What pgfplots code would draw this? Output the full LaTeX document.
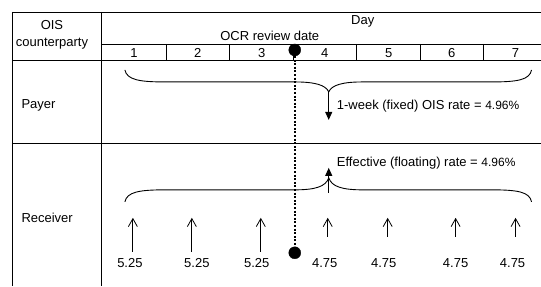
\documentclass[border=0pt]{standalone}
\usepackage{fontspec}
\setmainfont{Liberation Sans}
\usepackage{pgfplots}
\usepackage{pgfplotstable}
\pgfplotsset{compat=1.18}
\usetikzlibrary{arrows.meta}

% receiver daily rate arrows: x, bottom, top, label position, label
\pgfplotstableread{
x   yb    dv   lx   lab
133 252  -34   130  5.25
192 252  -34   197  5.25
261 252  -34   257  5.25
328 237  -19   325  4.75
388 237  -19   384  4.75
456 237  -19   456  4.75
516 237  -19   513  4.75
}\recv

\begin{document}
\fontsize{13bp}{15bp}\selectfont
\begin{tikzpicture}
\begin{axis}[
  width=541bp, height=286bp, scale only axis,
  xmin=0, xmax=541, ymin=0, ymax=286, y dir=reverse,
  hide axis, clip=false,
  every node/.style={font=\fontsize{13bp}{15bp}\selectfont},
]
\path (axis cs:0,0) rectangle (axis cs:541,286);
% table frame
\addplot[black, line width=0.9bp] coordinates {(12,12) (541,12)};
\addplot[black, line width=0.9bp] coordinates {(12,12) (12,286)};
\addplot[black, line width=0.9bp] coordinates {(102,12) (102,286)};
\addplot[black, line width=0.9bp] coordinates {(102,44) (541,44)};
\addplot[black, line width=0.9bp] coordinates {(12,61) (541,61)};
\addplot[black, line width=0.9bp] coordinates {(12,144) (541,144)};
\addplot[black, line width=0.9bp] coordinates {(166.5,44) (166.5,61)};
\addplot[black, line width=0.9bp] coordinates {(230,44) (230,61)};
\addplot[black, line width=0.9bp] coordinates {(293.5,44) (293.5,61)};
\addplot[black, line width=0.9bp] coordinates {(357,44) (357,61)};
\addplot[black, line width=0.9bp] coordinates {(420.5,44) (420.5,61)};
\addplot[black, line width=0.9bp] coordinates {(484,44) (484,61)};

% header text
\node[anchor=base] at (axis cs:52,30) {OIS};
\node[anchor=base] at (axis cs:52,47) {counterparty};
\node[anchor=base] at (axis cs:363,25) {Day};
\node[anchor=base] at (axis cs:270,41) {OCR review date};
\node[anchor=base] at (axis cs:134,58) {1};
\node[anchor=base] at (axis cs:198,58) {2};
\node[anchor=base] at (axis cs:262,58) {3};
\node[anchor=base] at (axis cs:325,58) {4};
\node[anchor=base] at (axis cs:389,58) {5};
\node[anchor=base] at (axis cs:452,58) {6};
\node[anchor=base] at (axis cs:516,58) {7};

% row labels
\node[anchor=west] at (axis cs:17,105) {Payer};
\node[anchor=west] at (axis cs:17,218) {Receiver};

% OCR review date line and dots
\addplot[black, line width=2.2bp, dash pattern=on 2bp off 1.6bp] coordinates {(295,56) (295,248)};
\addplot[black, only marks, mark=*, mark size=6bp] coordinates {(295,50) (295,253)};

% payer brace
\draw[black, line width=0.9bp] (axis cs:125,70) .. controls (axis cs:127,80) and (axis cs:140,82) .. (axis cs:165,82)
  -- (axis cs:295,82) .. controls (axis cs:315,82) and (axis cs:326,85) .. (axis cs:329,92)
  .. controls (axis cs:332,85) and (axis cs:343,82) .. (axis cs:363,82)
  -- (axis cs:492,82) .. controls (axis cs:518,82) and (axis cs:530,80) .. (axis cs:532,70);
\addplot[black, line width=0.9bp, -{Triangle[length=8bp,width=7bp]}] coordinates {(329,92) (329,120)};
\node[anchor=base west, inner sep=0pt] at (axis cs:337,110) {1-week (fixed) OIS rate = {\fontsize{12bp}{14bp}\selectfont 4.96\%}};

% receiver brace
\draw[black, line width=0.9bp] (axis cs:125,202) .. controls (axis cs:127,192) and (axis cs:140,190) .. (axis cs:165,190)
  -- (axis cs:295,190) .. controls (axis cs:315,190) and (axis cs:326,187) .. (axis cs:329,178)
  .. controls (axis cs:332,187) and (axis cs:343,190) .. (axis cs:363,190)
  -- (axis cs:492,190) .. controls (axis cs:518,190) and (axis cs:530,192) .. (axis cs:532,202);
\addplot[black, line width=0.9bp, -{Triangle[length=8bp,width=7bp]}] coordinates {(329,193) (329,168)};
\node[anchor=base west, inner sep=0pt] at (axis cs:337,167) {Effective (floating) rate = {\fontsize{12bp}{14bp}\selectfont 4.96\%}};

% receiver daily arrows
\addplot[black, line width=0.8bp, -{Straight Barb[length=8bp,width=9bp]},
  quiver={u=0, v=\thisrow{dv}}] table[x=x, y=yb] {\recv};
% labels
\addplot[draw=none, mark=none, nodes near coords, point meta=explicit symbolic,
  every node near coord/.style={anchor=center, font=\fontsize{13bp}{15bp}\selectfont}]
  table[x=lx, y expr=263, meta=lab] {\recv};
\end{axis}
\end{tikzpicture}
\end{document}
